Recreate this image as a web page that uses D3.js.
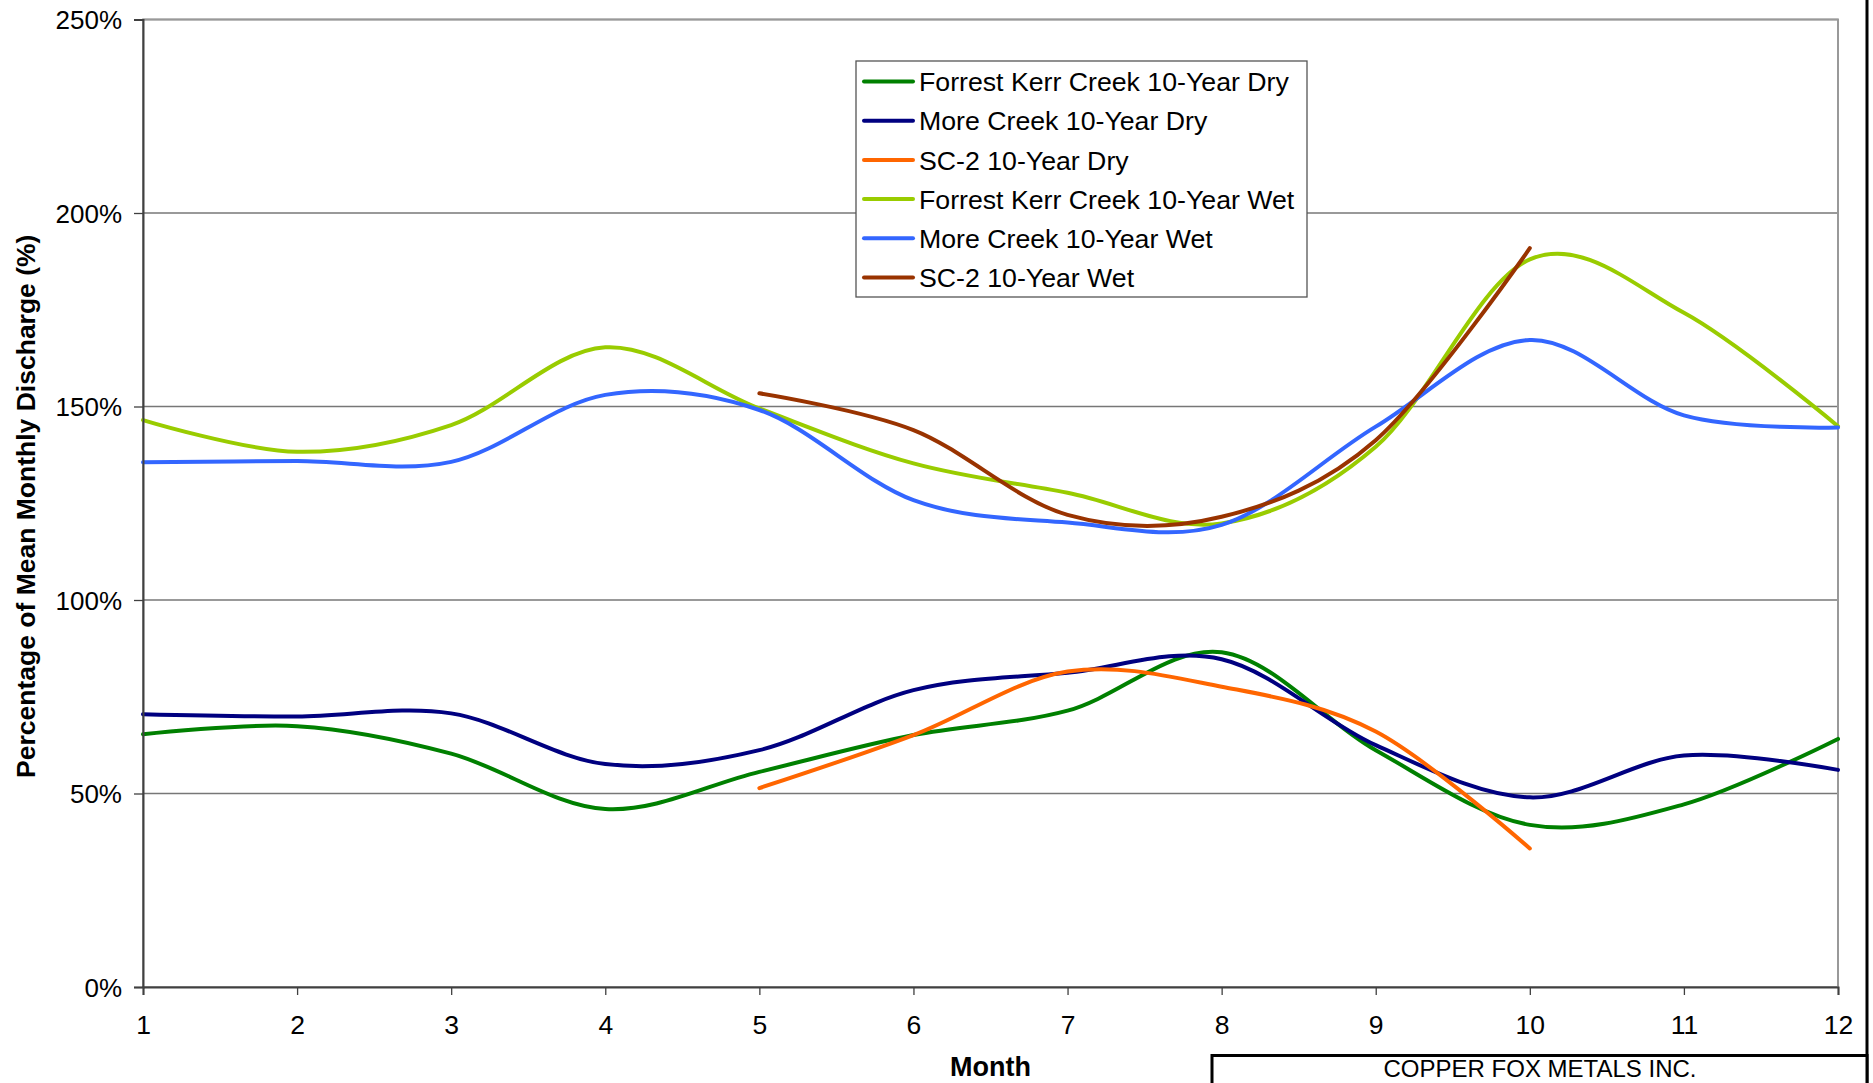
<!DOCTYPE html>
<html>
<head>
<meta charset="utf-8">
<script src="https://cdn.jsdelivr.net/npm/d3@7"></script>
<style>
  body { margin: 0; background: #fff; }
  text { font-family: Arial, "Liberation Sans", sans-serif; fill: #000; }
</style>
</head>
<body>
<div class="chartWrap"></div>
<script>
// months on the x axis
var months = [1, 2, 3, 4, 5, 6, 7, 8, 9, 10, 11, 12];
var sc2Months = [5, 6, 7, 8, 9, 10];

// percentage of mean monthly discharge
var forrestKerrDry = [65.3, 67.4, 60.3, 46.0, 55.6, 65.1, 71.4, 86.5, 61.2, 41.9, 47.2, 64.1];
var moreCreekDry   = [70.5, 69.9, 70.7, 57.6, 61.2, 76.7, 81.2, 84.7, 62.5, 49.0, 59.8, 56.1];
var sc2Dry         = [51.4, 65.1, 81.5, 77.6, 66.0, 35.8];
var forrestKerrWet = [146.5, 138.3, 145.2, 165.3, 149.5, 135.3, 127.7, 119.8, 139.6, 188.0, 174.2, 144.9];
var moreCreekWet   = [135.6, 135.9, 135.7, 153.0, 149.1, 125.8, 120.0, 119.4, 144.8, 167.2, 147.7, 144.6];
var sc2Wet         = [153.4, 143.9, 122.0, 121.5, 141.3, 190.9];

var seriesNames = ['Forrest Kerr Creek 10-Year Dry', 'More Creek 10-Year Dry', 'SC-2 10-Year Dry',
                   'Forrest Kerr Creek 10-Year Wet', 'More Creek 10-Year Wet', 'SC-2 10-Year Wet'];
var yTicks = [0, 50, 100, 150, 200, 250];

dischargeChart = {

  init: function(){
    self = this;
    self.width = 1873;
    self.height = 1083;
    self.plot = {left: 143, right: 1838, top: 19.5, bottom: 987};
    self.colors = ['#008000', '#000080', '#ff6600', '#99cc00', '#3366ff', '#993300'];

    self.series = [
      {name: seriesNames[0], x: months, y: forrestKerrDry},
      {name: seriesNames[1], x: months, y: moreCreekDry},
      {name: seriesNames[2], x: sc2Months, y: sc2Dry},
      {name: seriesNames[3], x: months, y: forrestKerrWet},
      {name: seriesNames[4], x: months, y: moreCreekWet},
      {name: seriesNames[5], x: sc2Months, y: sc2Wet}
    ];

    self.createSvg(self);
  },

  createSvg: function(self){
    self.svg = d3.select('.chartWrap')
      .append('svg')
      .attr('width', self.width)
      .attr('height', self.height);

    self.xScale = d3.scaleLinear().domain([1, 12]).range([self.plot.left, self.plot.right]);
    self.yScale = d3.scaleLinear().domain([0, 250]).range([self.plot.bottom, self.plot.top]);

    self.drawGrid();
    self.drawLines();
    self.drawAxes();
    self.drawLegend();
    self.drawFrame();
  },

  drawGrid: function(){
    self.svg.append('g')
      .selectAll('line')
      .data(yTicks.slice(1))
      .enter()
        .append('line')
        .attr('x1', self.plot.left)
        .attr('x2', self.plot.right)
        .attr('y1', function(d){ return self.yScale(d); })
        .attr('y2', function(d){ return self.yScale(d); })
        .style('stroke', '#777')
        .style('stroke-width', 1.3);

    // plot area border
    self.svg.append('rect')
      .attr('x', self.plot.left)
      .attr('y', self.plot.top)
      .attr('width', self.plot.right - self.plot.left)
      .attr('height', self.plot.bottom - self.plot.top)
      .style('fill', 'none')
      .style('stroke', '#999')
      .style('stroke-width', 2);
  },

  drawLines: function(){
    var line = d3.line()
      .x(function(d){ return self.xScale(d[0]); })
      .y(function(d){ return self.yScale(d[1]); })
      .curve(d3.curveCardinal.tension(0));

    self.svg.append('g')
      .selectAll('path')
      .data(self.series)
      .enter()
        .append('path')
        .attr('d', function(d){ return line(d3.zip(d.x, d.y)); })
        .style('fill', 'none')
        .style('stroke', function(d, i){ return self.colors[i]; })
        .style('stroke-width', 4)
        .style('stroke-linecap', 'round')
        .style('stroke-linejoin', 'round');
  },

  drawAxes: function(){
    var yAxis = d3.axisLeft(self.yScale)
      .tickValues(yTicks)
      .tickSize(9)
      .tickPadding(12)
      .tickFormat(function(d){ return d + '%'; });

    var gy = self.svg.append('g')
      .attr('transform', 'translate(' + self.plot.left + ',0)')
      .call(yAxis);
    gy.select('.domain').style('stroke', '#404040').style('stroke-width', 2);
    gy.selectAll('.tick line').style('stroke', '#404040').style('stroke-width', 1.3);
    gy.selectAll('.tick text')
      .style('font-size', '26px')
      .style('font-family', 'Arial, "Liberation Sans", sans-serif')
      .attr('dy', '0.36em');

    var xAxis = d3.axisBottom(self.xScale)
      .tickValues(months)
      .tickSize(8)
      .tickPadding(20)
      .tickFormat(d3.format('d'));

    var gx = self.svg.append('g')
      .attr('transform', 'translate(0,' + self.plot.bottom + ')')
      .call(xAxis);
    gx.select('.domain').style('stroke', '#404040').style('stroke-width', 2);
    gx.selectAll('.tick line').style('stroke', '#404040').style('stroke-width', 1.3);
    gx.selectAll('.tick text')
      .style('font-size', '26.5px')
      .style('font-family', 'Arial, "Liberation Sans", sans-serif');

    self.svg.append('text')
      .attr('x', (self.plot.left + self.plot.right) / 2)
      .attr('y', 1076)
      .attr('text-anchor', 'middle')
      .style('font-size', '27px')
      .style('font-weight', 'bold')
      .text('Month');

    self.svg.append('text')
      .attr('transform', 'translate(35,' + ((self.plot.top + self.plot.bottom) / 2 + 3) + ') rotate(-90)')
      .attr('text-anchor', 'middle')
      .style('font-size', '26.5px')
      .style('font-weight', 'bold')
      .text('Percentage of Mean Monthly Discharge (%)');
  },

  drawLegend: function(){
    var lg = self.svg.append('g').attr('transform', 'translate(856,61)');

    lg.append('rect')
      .attr('width', 451)
      .attr('height', 236)
      .style('fill', '#fff')
      .style('stroke', '#555')
      .style('stroke-width', 1.3);

    var rows = lg.selectAll('.legendRow')
      .data(self.series)
      .enter()
        .append('g')
        .attr('class', 'legendRow')
        .attr('transform', function(d, i){ return 'translate(0,' + (20.5 + i * 39.2) + ')'; });

    rows.append('line')
      .attr('x1', 8)
      .attr('x2', 57)
      .style('stroke', function(d, i){ return self.colors[i]; })
      .style('stroke-width', 4)
      .style('stroke-linecap', 'round');

    rows.append('text')
      .attr('x', 63)
      .attr('dy', '0.36em')
      .style('font-size', '26.7px')
      .text(function(d){ return d.name; });
  },

  drawFrame: function(){
    // drawing sheet border and title block
    self.svg.append('line')
      .attr('x1', 1867).attr('x2', 1867)
      .attr('y1', 0).attr('y2', self.height)
      .style('stroke', '#000')
      .style('stroke-width', 3);

    self.svg.append('rect')
      .attr('x', 1212)
      .attr('y', 1055.5)
      .attr('width', 655)
      .attr('height', 60)
      .style('fill', '#fff')
      .style('stroke', '#000')
      .style('stroke-width', 3);

    self.svg.append('text')
      .attr('x', 1540)
      .attr('y', 1077)
      .attr('text-anchor', 'middle')
      .style('font-size', '24px')
      .text('COPPER FOX METALS INC.');
  }

};

dischargeChart.init();
</script>
</body>
</html>
